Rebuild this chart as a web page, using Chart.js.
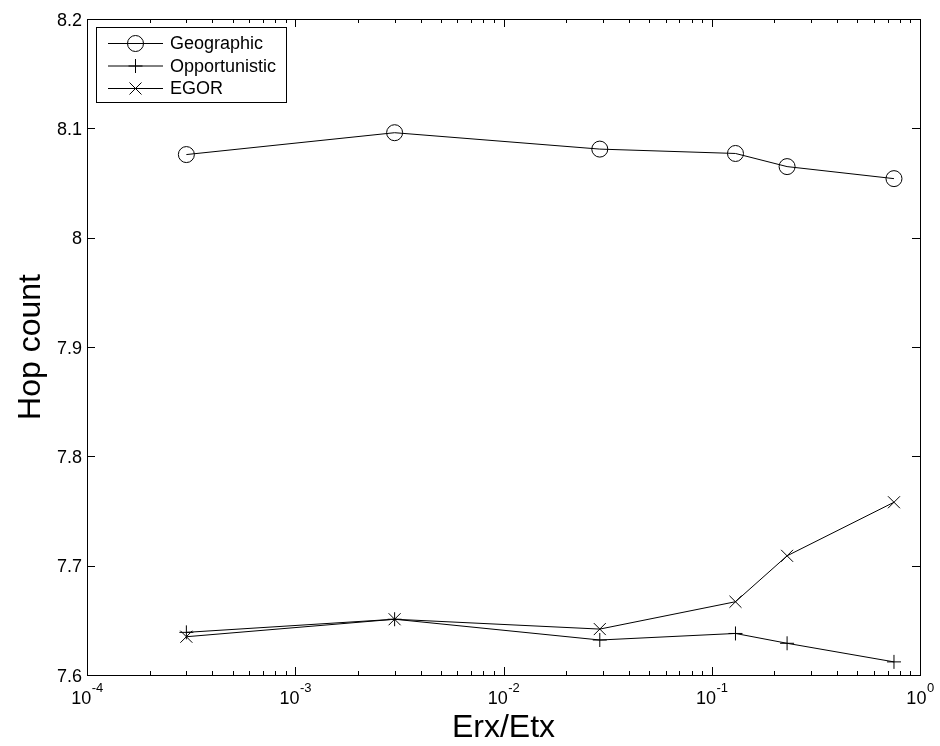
<!DOCTYPE html>
<html>
<head>
<meta charset="utf-8">
<script src="https://cdn.jsdelivr.net/npm/chart.js@4/dist/chart.umd.min.js"></script>
<style>
  html, body { margin: 0; padding: 0; background: #fff; }
  #wrap { width: 940px; height: 746px; }
</style>
</head>
<body>
<div id="wrap"><canvas id="hopChart" width="940" height="746"></canvas></div>
<script>
// Receive/transmit energy ratio (x, log scale) and average hop count per scheme
const energyRatio = [3e-4, 3e-3, 0.029, 0.13, 0.23, 0.75];
const geographicHops = [8.076, 8.096, 8.081, 8.077, 8.065, 8.054];
const opportunisticHops = [7.639, 7.651, 7.632, 7.638, 7.629, 7.612];
const egorHops = [7.635, 7.651, 7.642, 7.667, 7.709, 7.758];
const seriesNames = ['Geographic', 'Opportunistic', 'EGOR'];
const xDecadeExponents = [-4, -3, -2, -1, 0];
const yTickLabels = ['7.6', '7.7', '7.8', '7.9', '8', '8.1', '8.2'];
const xTitle = 'Erx/Etx';
const yTitle = 'Hop count';

const FONT = '"Liberation Sans", Arial, Helvetica, sans-serif';
const markerStyles = ['circle', 'cross', 'crossRot'];
const markerRadii = [8, 7, 8.5];

function toPoints(values) {
  return energyRatio.map((x, i) => ({ x: x, y: values[i] }));
}

function makeSeries(name, values, idx) {
  return {
    label: name,
    data: toPoints(values),
    borderColor: '#000',
    borderWidth: 1,
    fill: false,
    tension: 0,
    pointStyle: markerStyles[idx],
    pointRadius: markerRadii[idx],
    pointHoverRadius: markerRadii[idx],
    pointBorderColor: '#000',
    pointBackgroundColor: 'rgba(0,0,0,0)',
    pointBorderWidth: 1
  };
}

// Marker drawn in the legend box, same shapes as the plotted series
function drawMarker(ctx, style, r, x, y) {
  ctx.beginPath();
  if (style === 'circle') {
    ctx.arc(x, y, r, 0, Math.PI * 2);
  } else if (style === 'cross') {
    ctx.moveTo(x - r, y); ctx.lineTo(x + r, y);
    ctx.moveTo(x, y - r); ctx.lineTo(x, y + r);
  } else {
    const d = r * Math.SQRT1_2;
    ctx.moveTo(x - d, y - d); ctx.lineTo(x + d, y + d);
    ctx.moveTo(x - d, y + d); ctx.lineTo(x + d, y - d);
  }
  ctx.stroke();
}

// Box axes with inward ticks, superscripted decade labels, titles and legend
const matlabAxes = {
  id: 'matlabAxes',
  beforeDatasetsDraw(chart) {
    const ctx = chart.ctx;
    const a = chart.chartArea;
    const xs = chart.scales.x, ys = chart.scales.y;
    ctx.save();
    ctx.strokeStyle = '#000';
    ctx.lineWidth = 1;
    ctx.strokeRect(Math.round(a.left) + 0.5, Math.round(a.top) + 0.5,
                   Math.round(a.right - a.left), Math.round(a.bottom - a.top));

    // x ticks: major at decades, minor at 2..9 within each decade
    ctx.beginPath();
    xDecadeExponents.forEach((e, i) => {
      const px = Math.round(xs.getPixelForValue(Math.pow(10, e))) + 0.5;
      ctx.moveTo(px, a.bottom); ctx.lineTo(px, a.bottom - 8);
      ctx.moveTo(px, a.top); ctx.lineTo(px, a.top + 8);
      if (i < xDecadeExponents.length - 1) {
        for (let k = 2; k <= 9; k++) {
          const mx = Math.round(xs.getPixelForValue(k * Math.pow(10, e))) + 0.5;
          ctx.moveTo(mx, a.bottom); ctx.lineTo(mx, a.bottom - 4);
          ctx.moveTo(mx, a.top); ctx.lineTo(mx, a.top + 4);
        }
      }
    });
    // y ticks on both sides
    yTickLabels.forEach(lbl => {
      const py = Math.round(ys.getPixelForValue(parseFloat(lbl))) + 0.5;
      ctx.moveTo(a.left, py); ctx.lineTo(a.left + 8, py);
      ctx.moveTo(a.right, py); ctx.lineTo(a.right - 8, py);
    });
    ctx.stroke();

    ctx.fillStyle = '#000';
    // y tick labels
    ctx.font = '18px ' + FONT;
    ctx.textAlign = 'right';
    ctx.textBaseline = 'alphabetic';
    yTickLabels.forEach(lbl => {
      const py = ys.getPixelForValue(parseFloat(lbl));
      ctx.fillText(lbl, a.left - 5, py + 6.5);
    });

    // x tick labels as 10 with superscript exponent
    ctx.textAlign = 'left';
    xDecadeExponents.forEach(e => {
      const px = xs.getPixelForValue(Math.pow(10, e));
      const exp = e === 0 ? '0' : '-' + Math.abs(e);
      ctx.font = '18px ' + FONT;
      const wBase = ctx.measureText('10').width;
      ctx.font = '13px ' + FONT;
      const wExp = ctx.measureText(exp).width;
      const x0 = px - (wBase + wExp) / 2;
      ctx.font = '18px ' + FONT;
      ctx.fillText('10', x0, a.bottom + 29);
      ctx.font = '13px ' + FONT;
      ctx.fillText(exp, x0 + wBase + 0.5, a.bottom + 17);
    });

    // axis titles
    ctx.font = '32px ' + FONT;
    ctx.textAlign = 'center';
    ctx.fillText(xTitle, (a.left + a.right) / 2, 737);
    ctx.save();
    ctx.translate(40, (a.top + a.bottom) / 2);
    ctx.rotate(-Math.PI / 2);
    ctx.fillText(yTitle, 0, 0);
    ctx.restore();
    ctx.restore();
  },
  afterDraw(chart) {
    const ctx = chart.ctx;
    ctx.save();
    // legend box
    ctx.fillStyle = '#fff';
    ctx.fillRect(96, 27, 190, 75);
    ctx.strokeStyle = '#000';
    ctx.lineWidth = 1;
    ctx.strokeRect(96.5, 27.5, 190, 75);
    const rowsY = [43.5, 66, 88.5];
    ctx.font = '18px ' + FONT;
    ctx.textAlign = 'left';
    ctx.textBaseline = 'middle';
    chart.data.datasets.forEach((ds, i) => {
      const y = rowsY[i];
      ctx.beginPath();
      ctx.moveTo(108, y); ctx.lineTo(163, y);
      ctx.stroke();
      drawMarker(ctx, markerStyles[i], markerRadii[i], 135.5, y);
      ctx.fillStyle = '#000';
      ctx.fillText(ds.label, 170, y + 1);
    });
    ctx.restore();
  }
};

new Chart(document.getElementById('hopChart'), {
  type: 'line',
  data: {
    datasets: [
      makeSeries(seriesNames[0], geographicHops, 0),
      makeSeries(seriesNames[1], opportunisticHops, 1),
      makeSeries(seriesNames[2], egorHops, 2)
    ]
  },
  options: {
    responsive: false,
    devicePixelRatio: 1,
    animation: false,
    events: [],
    layout: { padding: { left: 87, top: 19, right: 20, bottom: 71 } },
    plugins: { legend: { display: false }, tooltip: { enabled: false } },
    scales: {
      x: { type: 'logarithmic', min: 1e-4, max: 1, display: false },
      y: { type: 'linear', min: 7.6, max: 8.2, display: false }
    }
  },
  plugins: [matlabAxes]
});
</script>
</body>
</html>
